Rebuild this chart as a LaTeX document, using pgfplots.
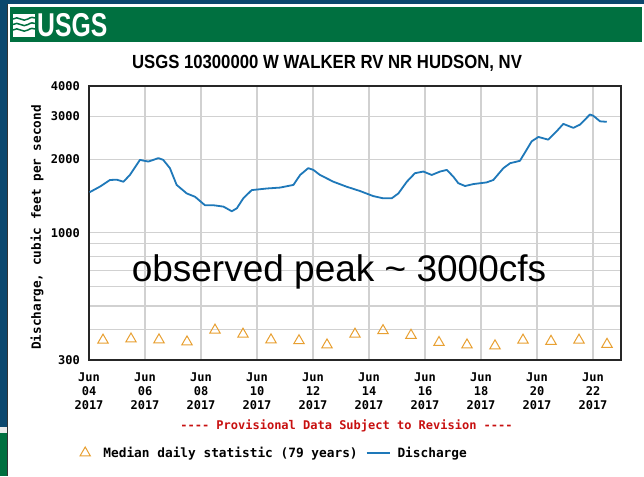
\documentclass[border=0pt]{standalone}
\usepackage{fontspec}
\setmainfont{Liberation Sans}
\newfontfamily\monob{DejaVu Sans Mono}
\usepackage{graphicx}
\usepackage{pgfplots}
\pgfplotsset{compat=1.18}
\definecolor{navy}{RGB}{12,72,110}
\definecolor{usgsgreen}{RGB}{0,112,64}
\definecolor{disc}{RGB}{30,120,185}
\definecolor{medc}{RGB}{232,160,50}
\definecolor{provred}{RGB}{200,16,16}
\newcommand{\tk}{\monob\bfseries\fontsize{12}{14}\selectfont}
\pgfplotsset{
  medleg/.style={legend image code/.code={\draw[##1] plot coordinates {(0pt,0pt)}; \path (-6pt,0pt) (16pt,0pt);}},
  discleg/.style={legend image code/.code={\path (0pt,0pt) (34pt,0pt); \draw[##1, line width=1.3pt] (6pt,0pt) -- (29pt,0pt);}},
}

\pgfplotstableread{
day  q
0.02 1465
0.39 1545
0.75 1645
0.99 1650
1.23 1618
1.46 1725
1.82 1990
2.12 1958
2.48 2023
2.65 1990
2.89 1840
3.13 1570
3.49 1449
3.79 1403
4.14 1296
4.44 1296
4.80 1279
5.10 1224
5.28 1259
5.51 1383
5.81 1495
6.35 1518
6.82 1531
7.30 1570
7.54 1725
7.83 1840
8.01 1810
8.25 1725
8.73 1618
9.20 1544
9.68 1482
10.15 1413
10.51 1383
10.81 1383
11.05 1449
11.35 1618
11.64 1754
11.94 1782
12.24 1725
12.54 1782
12.78 1810
13.01 1698
13.19 1596
13.43 1554
13.73 1583
14.20 1608
14.44 1645
14.80 1840
15.04 1928
15.39 1972
15.63 2190
15.81 2371
16.05 2471
16.40 2409
16.70 2606
16.94 2796
17.30 2692
17.54 2778
17.89 3055
18.01 3020
18.25 2865
18.49 2850
}\discharge

\pgfplotstableread{
day  q
0.5  362
1.5  366
2.5  363
3.5  356
4.5  398
5.5  383
6.5  363
7.5  360
8.5  346
9.5  383
10.5 396
11.5 379
12.5 354
13.5 346
14.5 343
15.5 362
16.5 358
17.5 362
18.5 348
}\median

\begin{document}
\begin{tikzpicture}[x=1pt,y=1pt]
\useasboundingbox (0,0) rectangle (644,-476);
\fill[navy] (0,0) rectangle (644,-476);
\fill[white] (8,-4) rectangle (644,-476);
\fill[black!8] (0,-427) rectangle (7.5,-433);
\fill[usgsgreen] (0,-433) rectangle (7.5,-476);
\draw[black!80, line width=0.8pt] (7.8,-4) -- (7.8,-476);
\fill[usgsgreen] (10,-7) rectangle (642,-42);
% logo
\fill[white] (13,-14) rectangle (35,-37);
\begin{scope}[usgsgreen, line width=1.5pt]
\foreach \yy in {-19,-24.5,-30} {
  \draw (13,\yy) .. controls (18,\yy+4) and (23,\yy-4) .. (28,\yy) .. controls (31,\yy+2) and (33,\yy+2) .. (35,\yy+1);
}
\end{scope}
\node[anchor=base west, white, inner sep=0pt] at (37,-37) {\scalebox{0.75}[1]{\fontsize{33}{33}\selectfont\bfseries USGS}};
\node[anchor=base, inner sep=0pt] at (327,-69) {\scalebox{0.88}[1]{\fontsize{19}{19}\selectfont\bfseries USGS 10300000 W WALKER RV NR HUDSON, NV}};

\begin{axis}[
  at={(89pt,-360pt)}, anchor=south west,
  scale only axis, width=532pt, height=274pt,
  xmin=0, xmax=19, ymode=log, ymin=300, ymax=4000,
  xtick={0,2,...,18},
  xticklabels={{Jun\\04\\2017},{Jun\\06\\2017},{Jun\\08\\2017},{Jun\\10\\2017},{Jun\\12\\2017},{Jun\\14\\2017},{Jun\\16\\2017},{Jun\\18\\2017},{Jun\\20\\2017},{Jun\\22\\2017}},
  ytick={300,1000,2000,3000,4000},
  yticklabels={300,1000,2000,3000,4000},
  minor ytick={400,500,600,700,800,900},
  grid=both,
  major grid style={black!18, line width=1.1pt},
  minor grid style={black!18, line width=1.1pt},
  major tick length=0pt, minor tick length=0pt,
  axis line style={black!85, line width=1.3pt},
  xticklabel style={font=\tk, align=center, inner sep=0pt, yshift=-13pt},
  yticklabel style={font=\tk, inner sep=0pt, xshift=-9pt},
  ylabel={Discharge, cubic feet per second},
  ylabel style={at={(axis description cs:-0.0977,0.4836)}, anchor=center, font=\monob\bfseries\fontsize{12.7}{12.7}\selectfont},
  legend style={at={(axis description cs:-0.0188,-0.3394)}, anchor=west, draw=none, fill=none, inner sep=0pt, outer sep=0pt, legend columns=-1, font=\monob\bfseries\fontsize{12.8}{14}\selectfont},
  legend cell align=left,
]
\addplot[only marks, mark=triangle, mark size=6pt, mark options={draw=medc, fill=none, line width=1pt}, medleg]
  table[x=day, y=q] {\median};
\addlegendentry{Median daily statistic (79 years)}
\addplot[disc, line width=1.8pt, line join=round, discleg]
  table[x=day, y=q] {\discharge};
\addlegendentry{Discharge}
\end{axis}

\node[anchor=base, inner sep=0pt] at (339,-281) {\fontsize{37}{37}\selectfont observed peak \textasciitilde{} 3000cfs};
\node[anchor=center, inner sep=0pt, text=provred] at (346.5,-426) {\monob\bfseries\fontsize{12}{14}\selectfont -{}-{}-{}- Provisional Data Subject to Revision -{}-{}-{}-};
\end{tikzpicture}
\end{document}
